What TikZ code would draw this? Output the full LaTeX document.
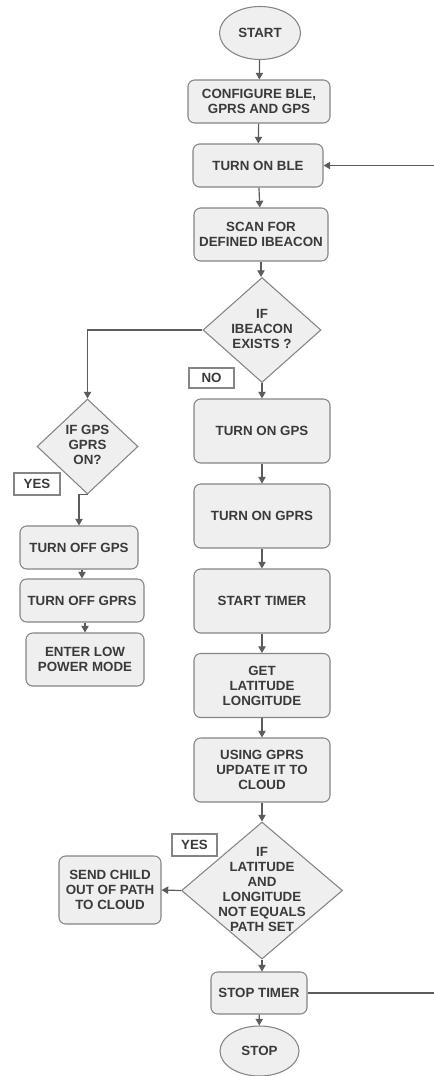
\documentclass[tikz,border=0pt]{standalone}
\usepackage{fontspec}
\setmainfont{Liberation Sans}
\usetikzlibrary{shapes.geometric,arrows.meta}
\definecolor{fillg}{HTML}{EFEFEF}
\definecolor{lineg}{HTML}{858585}
\definecolor{txt}{HTML}{3A3A3A}
\definecolor{arrg}{HTML}{5C5C5C}
\newcommand\zbox[1]{\smash{\makebox[0pt]{\raisebox{-2.5pt}{\begin{tabular}{@{}c@{}}#1\end{tabular}}}}}
\tikzset{
  fnt/.style={font=\bfseries\fontsize{10}{11.25}\selectfont},
  sz/.style 2 args={minimum width={#1*0.75pt}, minimum height={#2*0.75pt}},
  box/.style={draw=lineg, fill=fillg, rounded corners=5pt, line width=0.8pt, align=center, inner sep=1pt, text=txt, fnt},
  term/.style={box, ellipse, sharp corners},
  dec/.style={box, diamond, sharp corners, inner sep=0pt},
  tag/.style={draw=lineg, fill=white, line width=0.8pt, text=txt, fnt, inner sep=0pt},
  arr/.style={draw=arrg, line width=0.9pt, -{Triangle[length=5pt,width=5.5pt]}},
  ln/.style={draw=arrg, line width=0.9pt}
}
\begin{document}
\begin{tikzpicture}[x=0.75pt, y=-0.75pt]
\useasboundingbox (0,0) rectangle (433,1076);
\fill[white] (0,0) rectangle (433,1076);
% main column
\node[term, sz={81}{53}] (start) at (260,33) {START};
\node[box, sz={142}{43}] (config) at (259,101.5) {CONFIGURE BLE,\\GPRS AND GPS};
\node[box, sz={130}{43}] (ble) at (258,165.5) {TURN ON BLE};
\node[box, sz={134}{53}] (scan) at (261,234.5) {SCAN FOR\\DEFINED IBEACON};
\node[dec, sz={118}{105}] (d1) at (262,330) {\zbox{IF\\IBEACON\\EXISTS ?}};
\node[tag, sz={45}{20}] (no) at (211.5,378) {NO};
\node[box, sz={136}{64}] (gps) at (262,431) {TURN ON GPS};
\node[box, sz={136}{64}] (gprs) at (262,516) {TURN ON GPRS};
\node[box, sz={136}{64}] (timer) at (262,601) {START TIMER};
\node[box, sz={136}{64}] (latlon) at (262,685.5) {GET\\LATITUDE\\LONGITUDE};
\node[box, sz={136}{64}] (cloud) at (262,770) {USING GPRS\\UPDATE IT TO\\CLOUD};
\node[dec, sz={161}{137}] (d3) at (262,890.5) {\zbox{IF\\LATITUDE\\AND\\LONGITUDE\\NOT EQUALS\\PATH SET}};
\node[tag, sz={45}{22}] (yes2) at (194.5,845) {YES};
\node[box, sz={102}{68}] (send) at (110,890) {SEND CHILD\\OUT OF PATH\\TO CLOUD};
\node[box, sz={96}{42}] (stoptimer) at (259,993) {STOP TIMER};
\node[term, sz={79}{50}] (stop) at (259.5,1051) {STOP};
% left branch
\node[dec, sz={101}{95}] (d2) at (87.5,446.5) {\zbox{IF GPS\\GPRS\\ON?}};
\node[tag, sz={46}{22}] (yes1) at (37,484) {YES};
\node[box, sz={118}{43}] (offgps) at (79,547.5) {TURN OFF GPS};
\node[box, sz={124}{43}] (offgprs) at (82,600.5) {TURN OFF GPRS};
\node[box, sz={118}{53}] (lowpow) at (85,659.5) {ENTER LOW\\POWER MODE};
% loop coordinates (vertical part lies just outside the picture)
\coordinate (r1) at (440,993);
% connectors
\draw[arr] (start) -- (config);
\draw[arr] (config) -- (ble);
\draw[arr] (ble) -- (scan);
\draw[arr] (scan.south) -- (scan.south |- d1.north);
\draw[arr] (d1.south) -- (gps.north);
\draw[arr] (gps) -- (gprs);
\draw[arr] (gprs) -- (timer);
\draw[arr] (timer) -- (latlon);
\draw[arr] (latlon) -- (cloud);
\draw[arr] (cloud.south) -- (d3.north);
\draw[arr] (d3.south) -- (d3.south |- stoptimer.north);
\draw[arr] (stoptimer) -- (stop);
\draw[arr] (d3.west) -- (send.east);
\draw[arr] (d1.west) -| (d2.north);
\draw[arr] (d2.south) -| (offgps.north);
\draw[arr] (offgprs.north |- offgps.south) -- (offgprs.north);
\draw[arr] (lowpow.north |- offgprs.south) -- (lowpow.north);
\draw[arr] (stoptimer.east) -- (r1) |- (ble.east);
\end{tikzpicture}
\end{document}
